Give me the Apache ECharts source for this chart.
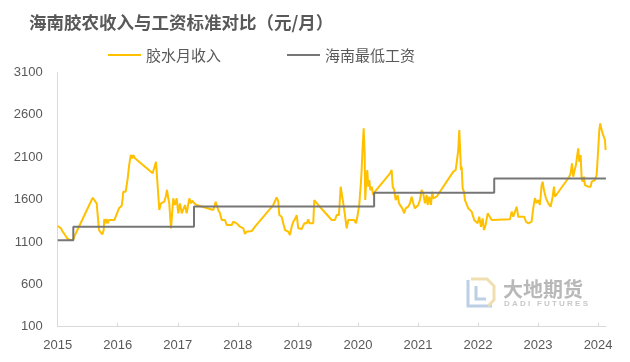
<!DOCTYPE html>
<html>
<head>
<meta charset="utf-8">
<script src="https://cdn.jsdelivr.net/npm/echarts@6/dist/echarts.min.js"></script>
<style>html,body{margin:0;padding:0;background:#fff;}#c{width:630px;height:362px;}</style>
</head>
<body>
<div id="c"></div>
<script>
const titleText = '海南胶农收入与工资标准对比（元/月）';
const seriesNames = ['胶水月收入', '海南最低工资'];
const xTickYears = [2015, 2016, 2017, 2018, 2019, 2020, 2021, 2022, 2023, 2024];
const incomeTimes = [
2015.000,2015.055,2015.077,2015.122,2015.160,2015.205,2015.255,2015.288,2015.583,2015.649,
2015.666,2015.688,2015.721,2015.743,2015.766,2015.776,2015.799,2015.816,2015.833,2015.854,
2015.943,2015.966,2015.993,2016.021,2016.066,2016.082,2016.092,2016.132,2016.166,2016.187,
2016.216,2016.242,2016.259,2016.287,2016.309,2016.582,2016.637,2016.665,2016.692,2016.720,
2016.742,2016.775,2016.799,2016.820,2016.842,2016.858,2016.887,2016.908,2016.925,2016.953,
2016.982,2017.008,2017.037,2017.065,2017.092,2017.120,2017.148,2017.175,2017.192,2017.220,
2017.241,2017.275,2017.315,2017.591,2017.631,2017.658,2017.674,2017.703,2017.731,2017.786,
2017.814,2017.898,2017.924,2017.953,2017.981,2018.008,2018.036,2018.091,2018.119,2018.147,
2018.231,2018.286,2018.590,2018.647,2018.674,2018.690,2018.730,2018.757,2018.785,2018.840,
2018.868,2018.897,2018.923,2018.952,2018.980,2019.007,2019.063,2019.107,2019.147,2019.173,
2019.190,2019.256,2019.273,2019.340,2019.563,2019.618,2019.646,2019.684,2019.713,2019.746,
2019.773,2019.813,2019.839,2019.939,2019.968,2019.996,2020.022,2020.051,2020.062,2020.079,
2020.096,2020.112,2020.122,2020.139,2020.156,2020.172,2020.189,2020.206,2020.229,2020.256,
2020.284,2020.534,2020.562,2020.579,2020.605,2020.629,2020.662,2020.684,2020.717,2020.739,
2020.772,2020.795,2020.838,2020.867,2020.895,2020.922,2020.950,2021.005,2021.033,2021.061,
2021.088,2021.116,2021.145,2021.161,2021.188,2021.216,2021.238,2021.255,2021.283,2021.311,
2021.588,2021.628,2021.650,2021.671,2021.688,2021.705,2021.716,2021.728,2021.744,2021.766,
2021.783,2021.811,2021.838,2021.866,2021.894,2021.937,2021.966,2021.994,2022.020,2022.049,
2022.077,2022.099,2022.127,2022.161,2022.182,2022.227,2022.254,2022.532,2022.560,2022.587,
2022.615,2022.643,2022.670,2022.699,2022.727,2022.770,2022.799,2022.837,2022.865,2022.893,
2022.920,2022.948,2022.976,2023.003,2023.031,2023.060,2023.077,2023.098,2023.132,2023.170,
2023.210,2023.243,2023.265,2023.282,2023.520,2023.543,2023.565,2023.586,2023.603,2023.631,
2023.653,2023.669,2023.686,2023.709,2023.726,2023.743,2023.764,2023.781,2023.809,2023.836,
2023.876,2023.893,2023.909,2023.948,2023.976,2024.003,2024.020,2024.036,2024.052,2024.075,
2024.097,2024.114,2024.125
];
const incomeValues = [
1288,1261,1229,1182,1143,1123,1123,1182,1622,1556,
1536,1241,1229,1190,1241,1371,1320,1371,1320,1359,
1359,1398,1418,1497,1528,1615,1693,1693,1851,1988,
2126,2087,2126,2087,2106,1910,2047,2028,1477,1556,
1536,1575,1634,1713,1615,1556,1261,1261,1615,1536,
1615,1438,1556,1438,1418,1536,1438,1438,1615,1556,
1587,1556,1536,1477,1575,1556,1477,1438,1359,1359,
1300,1300,1339,1347,1320,1320,1280,1261,1194,1221,
1229,1280,1536,1627,1575,1418,1398,1398,1241,1221,
1182,1280,1339,1370,1418,1261,1253,1320,1320,1367,
1320,1320,1595,1536,1359,1359,1418,1418,1752,1752,
1477,1261,1359,1359,1320,1418,1536,1811,1949,2225,
2441,2146,1595,1831,1949,1752,1831,1713,1752,1654,
1693,1910,1949,1752,1713,1595,1654,1556,1575,1497,
1438,1497,1516,1556,1634,1556,1497,1536,1595,1713,
1674,1556,1654,1536,1634,1536,1693,1615,1603,1634,
1930,1949,2067,2185,2421,2146,1949,1988,1733,1693,
1595,1575,1497,1497,1458,1359,1379,1320,1398,1280,
1379,1241,1300,1438,1418,1359,1359,1367,1458,1398,
1418,1516,1398,1418,1398,1398,1339,1320,1300,1339,
1500,1618,1559,1595,1536,1772,1811,1713,1615,1556,
1516,1634,1752,1634,1870,1910,2028,1870,1930,2008,
2126,2205,2047,2126,1851,1811,1870,1772,1793,1752,
1752,1811,1831,1831,1890,2205,2421,2500,2441,2382,
2362,2303,2185
];
const wageTimes = [2015.00, 2015.26, 2017.27, 2020.27, 2022.27, 2024.13];
const wageValues = [1120, 1280, 1520, 1680, 1850, 1850];
const yMin = 100, yMax = 3100, yStep = 500;
const xMin = 2015, xMax = 2024.13;

const chart = echarts.init(document.getElementById('c'), null, {renderer: 'canvas'});
const numFont = '"Liberation Sans", Arial, sans-serif';
const cjkFont = '"Noto Sans CJK SC", sans-serif';
chart.setOption({
  animation: false,
  backgroundColor: '#ffffff',
  title: {
    text: titleText, left: 29, top: 14, padding: 0,
    textStyle: {fontFamily: cjkFont, fontSize: 17.5, fontWeight: 'bold', color: '#595959'}
  },
  legend: {
    left: 108, top: 47.5, padding: 0, itemGap: 66,
    icon: 'rect', itemWidth: 33, itemHeight: 2,
    textStyle: {fontFamily: cjkFont, fontSize: 15, color: '#595959'},
    data: seriesNames
  },
  grid: {left: 57.7, right: 24.1, top: 72.5, bottom: 35.3, containLabel: false},
  xAxis: {
    type: 'value', min: xMin, max: xMax,
    axisLine: {show: true, lineStyle: {color: '#d9d9d9', width: 1}},
    axisTick: {show: true, inside: true, length: 4, lineStyle: {color: '#d9d9d9'}, customValues: xTickYears},
    axisLabel: {fontFamily: numFont, fontSize: 13, color: '#595959', margin: 12, customValues: xTickYears,
      formatter: v => String(Math.round(v))},
    splitLine: {show: false}
  },
  yAxis: {
    type: 'value', min: yMin, max: yMax, interval: yStep,
    axisLine: {show: true, lineStyle: {color: '#d9d9d9', width: 1}},
    axisTick: {show: false},
    axisLabel: {fontFamily: numFont, fontSize: 13, color: '#595959', margin: 15,
      formatter: v => String(v)},
    splitLine: {show: false}
  },
  series: [
    {
      name: seriesNames[0], type: 'line', symbol: 'none',
      data: incomeTimes.map((t, i) => [t, incomeValues[i]]),
      lineStyle: {color: '#FFC000', width: 2}, itemStyle: {color: '#FFC000'}
    },
    {
      name: seriesNames[1], type: 'line', symbol: 'none', step: 'end',
      data: wageTimes.map((t, i) => [t, wageValues[i]]),
      lineStyle: {color: '#767676', width: 2}, itemStyle: {color: '#767676'}
    }
  ],
  graphic: [
    {type: 'polyline', shape: {points: [[468, 280], [468, 306], [492, 306]]}, style: {stroke: '#bccfe6', lineWidth: 3, fill: null}, silent: true},
    {type: 'polyline', shape: {points: [[471, 279], [487, 279], [494, 286], [494, 300], [488, 306]]}, style: {stroke: '#efdfb0', lineWidth: 3, fill: null}, silent: true},
    {type: 'polyline', shape: {points: [[476, 286], [476, 299], [486, 299]]}, style: {stroke: '#bccfe6', lineWidth: 3, fill: null}, silent: true},
    {type: 'text', left: 503, top: 279, silent: true,
      style: {text: '大地期货', font: 'bold 20px "Noto Sans CJK SC", sans-serif', fill: '#b8b8b8'}},
    {type: 'text', left: 504, top: 300, silent: true,
      style: {text: 'D A D I   F U T U R E S', font: 'bold 8px "Liberation Sans", Arial, sans-serif', fill: '#c8c8c8'}}
  ]
});
</script>
</body>
</html>
